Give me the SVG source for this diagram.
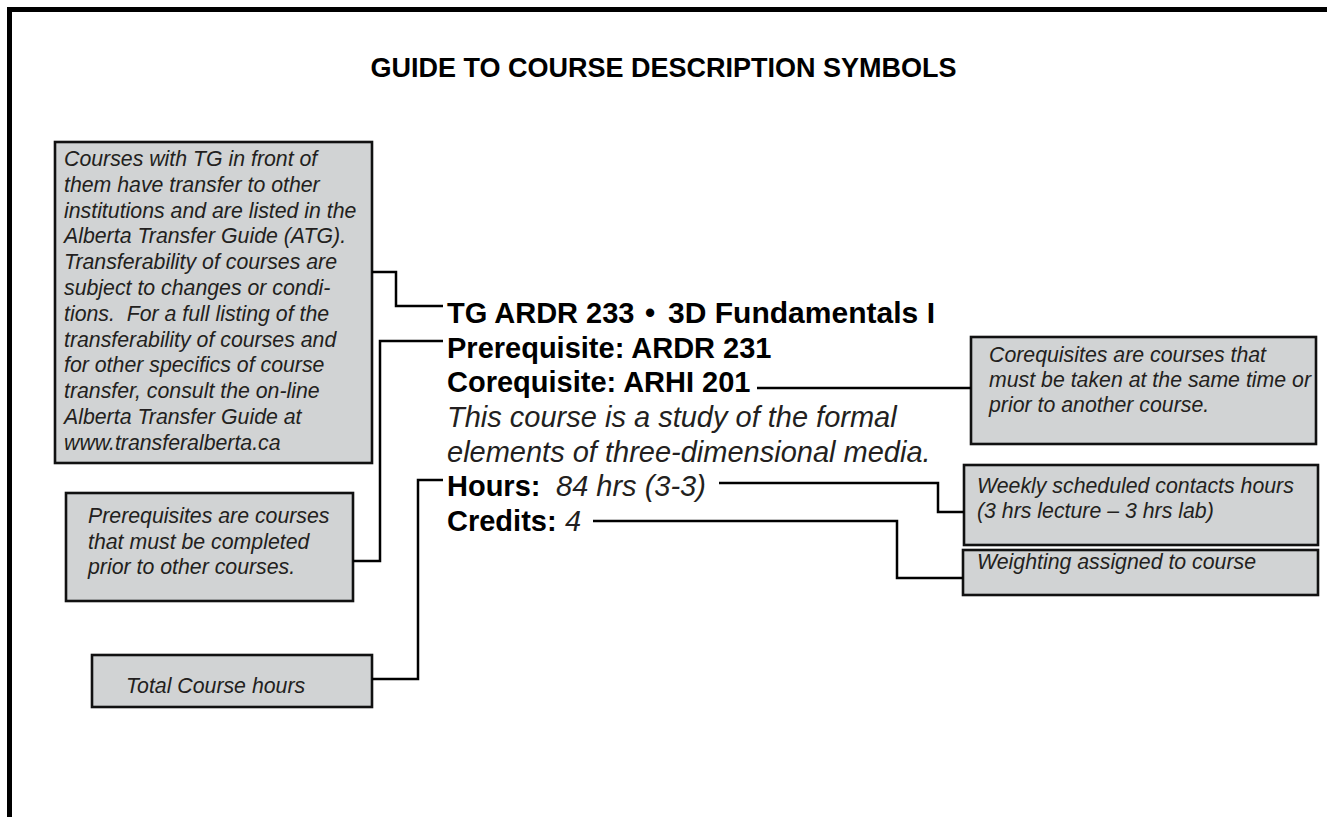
<svg xmlns="http://www.w3.org/2000/svg" width="1327" height="817" viewBox="0 0 1327 817">
<style>
.box{fill:#d1d3d4;stroke:#111;stroke-width:2.6}
.bt{font-family:"Liberation Sans",Arial,sans-serif;font-style:italic;font-size:21.3px;fill:#231f20}
.mb{font-family:"Liberation Sans",Arial,sans-serif;font-weight:bold;font-size:29px;fill:#000}
.mi{font-family:"Liberation Sans",Arial,sans-serif;font-style:italic;font-weight:normal;font-size:29px;fill:#231f20}
.conn path{fill:none;stroke:#000;stroke-width:2.5}
</style>
<rect width="1327" height="817" fill="#fff"/>
<path d="M9.5,817 V9.5 H1327" fill="none" stroke="#000" stroke-width="5"/>
<text x="663.5" y="77" text-anchor="middle" font-family="Liberation Sans,Arial,sans-serif" font-weight="bold" font-size="27" fill="#000">GUIDE TO COURSE DESCRIPTION SYMBOLS</text>

<g id="tg-note">
<rect class="box" x="55" y="142" width="317" height="321"/>
<text class="bt">
<tspan x="64" y="166">Courses with TG in front of</tspan>
<tspan x="64" y="192">them have transfer to other</tspan>
<tspan x="64" y="218">institutions and are listed in the</tspan>
<tspan x="64" y="243">Alberta Transfer Guide (ATG).</tspan>
<tspan x="64" y="269">Transferability of courses are</tspan>
<tspan x="64" y="295">subject to changes or condi-</tspan>
<tspan x="64" y="321" xml:space="preserve">tions.  For a full listing of the</tspan>
<tspan x="64" y="347">transferability of courses and</tspan>
<tspan x="64" y="372">for other specifics of course</tspan>
<tspan x="64" y="398">transfer, consult the on-line</tspan>
<tspan x="64" y="424">Alberta Transfer Guide at</tspan>
<tspan x="64" y="450">www.transferalberta.ca</tspan>
</text>
</g>

<g id="prereq-note">
<rect class="box" x="66" y="493" width="287" height="108"/>
<text class="bt">
<tspan x="88" y="523">Prerequisites are courses</tspan>
<tspan x="88" y="549">that must be completed</tspan>
<tspan x="88" y="574">prior to other courses.</tspan>
</text>
</g>

<g id="total-note">
<rect class="box" x="92" y="655" width="280" height="52"/>
<text class="bt" x="126" y="693">Total Course hours</text>
</g>

<g id="coreq-note">
<rect class="box" x="971" y="337" width="345" height="107"/>
<text class="bt">
<tspan x="989" y="362">Corequisites are courses that</tspan>
<tspan x="989" y="387">must be taken at the same time or</tspan>
<tspan x="989" y="412">prior to another course.</tspan>
</text>
</g>

<g id="weekly-note">
<rect class="box" x="964" y="465" width="354" height="80"/>
<text class="bt">
<tspan x="977" y="493">Weekly scheduled contacts hours</tspan>
<tspan x="977" y="518">(3 hrs lecture – 3 hrs lab)</tspan>
</text>
</g>

<g id="weighting-note">
<rect class="box" x="963" y="550" width="355" height="45"/>
<text class="bt" x="977" y="569">Weighting assigned to course</text>
</g>

<g id="course-entry">
<text class="mb" x="447" y="323" font-size="31">TG ARDR 233</text>
<text class="mb" x="645" y="323" font-size="32">•</text>
<text class="mb" x="668" y="323" font-size="26" textLength="267" lengthAdjust="spacingAndGlyphs">3D Fundamentals I</text>
<text class="mb" x="447" y="358">Prerequisite: ARDR 231</text>
<text class="mb" x="447" y="392">Corequisite: ARHI 201</text>
<text class="mi" x="447" y="427">This course is a study of the formal</text>
<text class="mi" x="447" y="462">elements of three-dimensional media.</text>
<text class="mb" x="447" y="496">Hours:<tspan class="mi" x="556">84 hrs (3-3)</tspan></text>
<text class="mb" x="447" y="531">Credits:<tspan class="mi" x="565">4</tspan></text>
</g>

<g id="connectors" class="conn">
<path d="M372,272 H396 V306 H443"/>
<path d="M353,561 H380 V341 H443"/>
<path d="M372,679 H418 V480 H443"/>
<path d="M757,388 H971"/>
<path d="M719,483 H938 V512 H964"/>
<path d="M593,521 H897 V578 H963"/>
</g>
</svg>
